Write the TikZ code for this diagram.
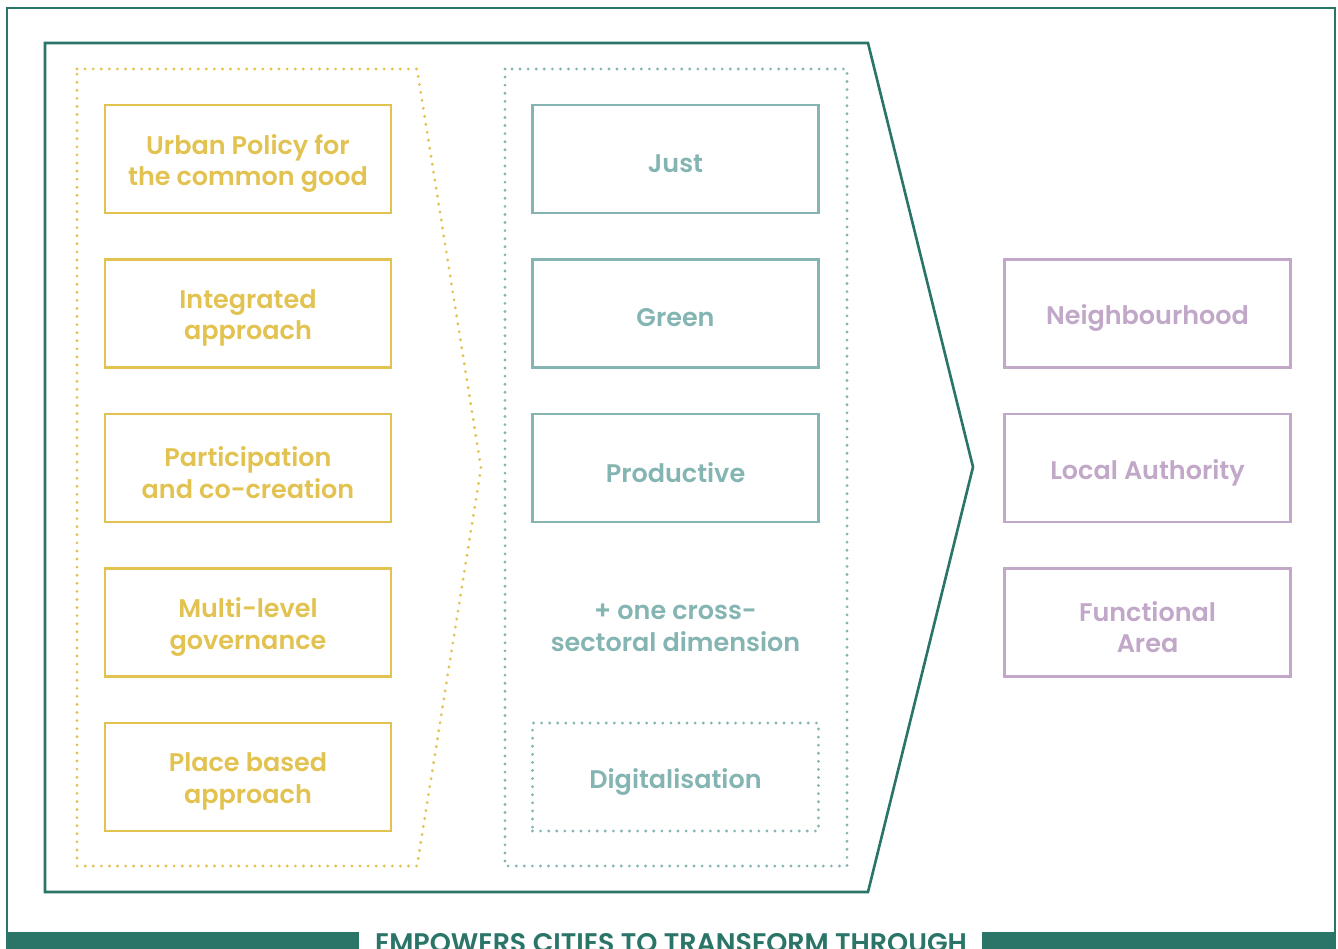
\documentclass[tikz,border=0pt]{standalone}
\usepackage{fontspec}
\setmainfont{Poppins}[BoldFont={Poppins SemiBold}]
\usetikzlibrary{positioning}

\definecolor{darkteal}{HTML}{2A7468}
\definecolor{mustard}{HTML}{E2C250}
\definecolor{paleteal}{HTML}{85B5B2}
\definecolor{lilac}{HTML}{C1A7C8}

\tikzset{
  pillar/.style={draw=#1, line width=1.4pt, minimum width=5.72cm, minimum height=2.16cm},
  caption/.style={text=#1, align=center, font=\fontsize{14.5}{18}\selectfont\bfseries},
  dotline/.style={draw=#1, line width=1.8pt, line cap=round, dash pattern=on 0pt off 4.6pt},
}

\begin{document}
\begin{tikzpicture}[x=0.02cm, y=-0.02cm]
    \useasboundingbox (0,0) rectangle (1338,949);
    \clip (0,0) rectangle (1338,949);

    % Draw outer frame and bottom banner
    \draw[darkteal, line width=1.2pt] (7,960) -- (7,8) -- (1335,8) -- (1335,960);
    \fill[darkteal] (6,932) rectangle (359,960);
    \fill[darkteal] (982,932) rectangle (1336,960);
    \node[anchor=base, text=darkteal, font=\fontsize{15.3}{18}\selectfont\bfseries]
      (banner) at (671,952) {EMPOWERS CITIES TO TRANSFORM THROUGH};

    % Draw big arrow
    \draw[darkteal, line width=1.5pt] (45,43) -- (868,43) -- (973,467) -- (868,892) -- (45,892) -- cycle;

    % Draw dotted groups
    \draw[dotline=mustard] (77,69) -- (417,69) -- (481,468) -- (417,866) -- (77,866) -- cycle;
    \draw[dotline=paleteal] (505,69) rectangle (847,866);

    % Principles
    \foreach \txt [count=\i] in {{Urban Policy for\\the common good}, {Integrated\\approach},
      {Participation\\and co-creation}, {Multi-level\\governance}, {Place based\\approach}}
    {
      \node[pillar=mustard] (principle\i) at (248,4.5+154.5*\i) {};
      \node[caption=mustard] (principle\i-text) at ([yshift=-0.09cm]principle\i.center) {\txt};
    }

    % Dimensions
    \foreach \txt [count=\i] in {Just, Green, Productive}
    {
      \node[pillar=paleteal] (dim\i) at (675.5,4.5+154.5*\i) {};
      \node[caption=paleteal] (dim\i-text) at ([yshift=-0.09cm]dim\i.center) {\txt};
    }
    \node[caption=paleteal] (cross) at (675.5,628) {+ one cross-\\sectoral dimension};
    \node[pillar=paleteal, dotline=paleteal] (digital) at (675.5,777) {};
    \node[caption=paleteal] (digital-text) at ([yshift=-0.09cm]digital.center) {Digitalisation};

    % Spatial levels
    \foreach \txt [count=\i] in {Neighbourhood, Local Authority, {Functional\\Area}}
    {
      \node[pillar=lilac] (level\i) at (1147.5,159+154.5*\i) {};
      \node[caption=lilac] (level\i-text) at ([yshift=-0.09cm]level\i.center) {\txt};
    }

  \end{tikzpicture}
\end{document}
